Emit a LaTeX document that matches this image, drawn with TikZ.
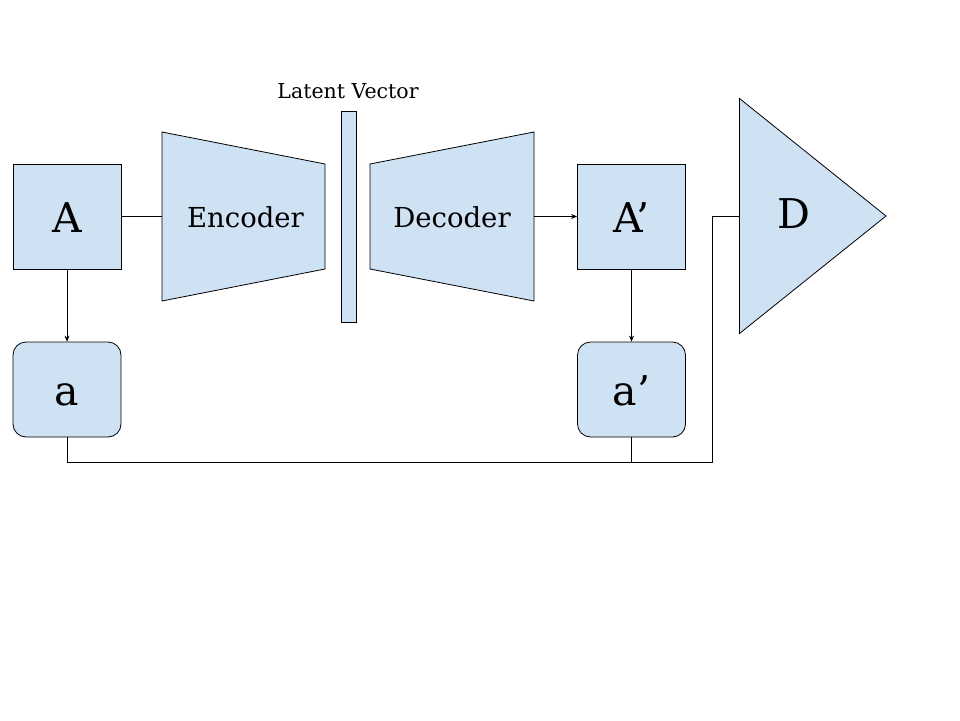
\documentclass[tikz,border=0pt]{standalone}
\usepackage{fontspec}
\setmainfont{DejaVu Serif}
\usetikzlibrary{arrows.meta}
\definecolor{blockfill}{HTML}{CFE2F3}
\tikzset{
  block/.style={draw=black, fill=blockfill, line width=0.8pt},
  sqbox/.style={block, rectangle, minimum width=108pt, minimum height=105pt, inner sep=0pt,
    text height=31pt, text depth=0pt, font=\fontsize{41}{41}\selectfont},
  rbox/.style={sqbox, rounded corners=13pt, minimum height=95pt, text height=32.5pt},
  wire/.style={draw=black, line width=0.8pt},
  arr/.style={wire, -{Stealth[length=6pt, width=5pt]}},
  midlabel/.style={inner sep=0pt, anchor=base, font=\fontsize{27.5}{27.5}\selectfont},
  toplabel/.style={inner sep=0pt, anchor=base, font=\fontsize{20.5}{20.5}\selectfont}
}
\begin{document}
\begin{tikzpicture}[x=1pt, y=-1pt]
  \useasboundingbox (0,0) rectangle (960,720);

  % input and reconstruction
  \node[sqbox] (A)  at (67,216.5)  {A};
  \node[sqbox] (Ap) at (631.5,216.5) {A’};
  \node[rbox]  (a)  at (67,389.5)  {a};
  \node[rbox]  (ap) at (631.5,389.5) {a’};

  % encoder
  \draw[block] (162,132) -- (325,164) -- (325,269) -- (162,301) -- cycle;
  \node[midlabel] (enc) at (245.5,227.3) {Encoder};
  \coordinate (encin) at (162,216.5);

  % latent vector
  \node[block, rectangle, minimum width=15pt, minimum height=211pt, inner sep=0pt] (lat) at (349,216.5) {};
  \node[toplabel] (latlbl) at (348,98.3) {Latent Vector};

  % decoder
  \draw[block] (370,164) -- (534,132) -- (534,301) -- (370,269) -- cycle;
  \node[midlabel] (dec) at (452,227.3) {Decoder};
  \coordinate (decout) at (534,216.5);

  % discriminator
  \draw[block] (739.5,98.5) -- (886,216) -- (739.5,333.5) -- cycle;
  \node[inner sep=0pt, anchor=base, font=\fontsize{41}{41}\selectfont] (D) at (794,228) {D};
  \coordinate (din) at (739.5,216.5);

  % connectors
  \draw[wire] (A.east) -- (encin);
  \draw[arr] (decout) -- (Ap.west);
  \draw[arr] (A.south) -- (a.north);
  \draw[arr] (Ap.south) -- (ap.north);
  \coordinate (bus) at (712.5,462.5);
  \draw[wire] (a.south) |- (bus) |- (din);
  \draw[wire] (ap.south) -- (ap.south |- bus);
\end{tikzpicture}
\end{document}
